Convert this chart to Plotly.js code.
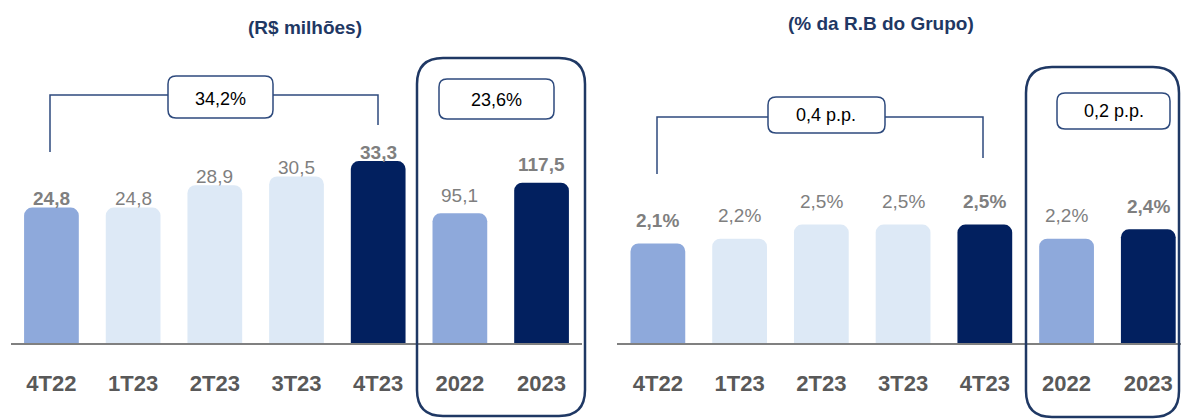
<!DOCTYPE html>
<html>
<head>
<meta charset="utf-8">
<script src="https://cdn.plot.ly/plotly-3.0.1.min.js"></script>
<style>body{margin:0;background:#fff}</style>
</head>
<body>
<div id="chart" style="width:1181px;height:419px"></div>
<script>
// dados
var periods = ['4T22', '1T23', '2T23', '3T23', '4T23', '2022', '2023'];
var quarters = ['4T22', '1T23', '2T23', '3T23', '4T23'];
var years = ['2022', '2023'];
var valTri = [24.8, 24.8, 28.9, 30.5, 33.3];      // R$ milhoes
var valAno = [95.1, 117.5];
var pctRB = [2.1, 2.2, 2.5, 2.5, 2.5, 2.2, 2.4];  // % da R.B
var boldLabel = [true, false, false, false, true, false, true];
var varTri = '34,2%';
var varAno = '23,6%';
var varTriPP = '0,4 p.p.';
var varAnoPP = '0,2 p.p.';

var W = 1181, H = 419;
var NAVY = '#02205F', MID = '#8EA9DB', LIGHT = '#DDE9F6';
var colTri = [MID, LIGHT, LIGHT, LIGHT, NAVY];
var colAno = [MID, NAVY];
var FONT = 'Liberation Sans, Arial, sans-serif';

function fmt(v) { return v.toFixed(1).replace('.', ','); }
function px(x) { return x / W; }
function py(y) { return 1 - y / H; }

var traces = [
  {x: quarters, y: valTri, type: 'bar', xaxis: 'x', yaxis: 'y',
   marker: {color: colTri}, hoverinfo: 'skip'},
  {x: years, y: valAno, type: 'bar', xaxis: 'x', yaxis: 'y2',
   marker: {color: colAno}, hoverinfo: 'skip'},
  {x: periods, y: pctRB, type: 'bar', xaxis: 'x2', yaxis: 'y3',
   marker: {color: colTri.concat(colAno)}, hoverinfo: 'skip'}
];

var annotations = [];
// x como indice da categoria (rotulos numericos tipo '2022' confundem o eixo)
function valueLabel(cat, v, xref, yref, txt, bold, shift) {
  annotations.push({
    x: periods.indexOf(cat), y: v, xref: xref, yref: yref, text: txt, showarrow: false,
    yanchor: 'middle', yshift: shift,
    font: {family: FONT, size: 19, color: '#7F7F7F', weight: bold ? 'bold' : 'normal'}
  });
}
quarters.forEach(function (c, i) {
  valueLabel(c, valTri[i], 'x', 'y', fmt(valTri[i]), boldLabel[i], 9);
});
years.forEach(function (c, i) {
  valueLabel(c, valAno[i], 'x', 'y2', fmt(valAno[i]), boldLabel[5 + i], 18);
});
periods.forEach(function (c, i) {
  valueLabel(c, pctRB[i], 'x2', 'y3', fmt(pctRB[i]) + '%', boldLabel[i], 23);
});

function textAt(x, y, txt, size, color, bold) {
  annotations.push({
    x: px(x), y: py(y), xref: 'paper', yref: 'paper', text: txt, showarrow: false,
    xanchor: 'center', yanchor: 'middle',
    font: {family: FONT, size: size, color: color, weight: bold ? 'bold' : 'normal'}
  });
}
textAt(305, 27, '(R$ milhões)', 19, '#1F3864', true);
textAt(881, 23, '(% da R.B do Grupo)', 19, '#1F3864', true);
textAt(220, 99, varTri, 18, '#000', false);
textAt(496, 100, varAno, 18, '#000', false);
textAt(826, 115, varTriPP, 18, '#000', false);
textAt(1114, 111, varAnoPP, 18, '#000', false);

function rrect(x0, y0, x1, y1, r) {
  var p = function (x, y) { return px(x) + ',' + py(y); };
  return 'M' + p(x0 + r, y0) + ' L' + p(x1 - r, y0) + ' Q' + p(x1, y0) + ' ' + p(x1, y0 + r) +
    ' L' + p(x1, y1 - r) + ' Q' + p(x1, y1) + ' ' + p(x1 - r, y1) +
    ' L' + p(x0 + r, y1) + ' Q' + p(x0, y1) + ' ' + p(x0, y1 - r) +
    ' L' + p(x0, y0 + r) + ' Q' + p(x0, y0) + ' ' + p(x0 + r, y0) + ' Z';
}
function polyline(pts) {
  return pts.map(function (q, i) { return (i ? 'L' : 'M') + px(q[0]) + ',' + py(q[1]); }).join(' ');
}
function shp(path, color, width) {
  return {type: 'path', xref: 'paper', yref: 'paper', path: path,
          line: {color: color, width: width}, fillcolor: 'rgba(0,0,0,0)'};
}

var shapes = [
  shp(rrect(417, 58, 585, 416, 26), '#1F3864', 2.5),
  shp(rrect(1026, 67, 1179, 417, 26), '#1F3864', 2.5),
  shp(polyline([[50, 152], [50, 95], [168, 95]]), '#2E4A7D', 1.5),
  shp(polyline([[273, 95], [378, 95], [378, 125]]), '#2E4A7D', 1.5),
  shp(rrect(168, 76, 273, 118, 8), '#2E4A7D', 1.5),
  shp(rrect(439, 79, 554, 119, 8), '#2E4A7D', 1.5),
  shp(polyline([[657, 174], [657, 117], [768, 117]]), '#2E4A7D', 1.5),
  shp(polyline([[885, 117], [983, 117], [983, 158]]), '#2E4A7D', 1.5),
  shp(rrect(768, 97, 885, 133, 8), '#2E4A7D', 1.5),
  shp(rrect(1057, 93, 1170, 129, 8), '#2E4A7D', 1.5)
];

var yDom = [py(343), 1];
var xCommon = {
  type: 'category', showgrid: false, zeroline: false, fixedrange: true,
  showline: true, linecolor: '#808080', linewidth: 2,
  ticks: 'outside', ticklen: 20, tickcolor: 'rgba(0,0,0,0)',
  tickfont: {family: FONT, size: 22, color: '#595959', weight: 'bold'}
};
var yCommon = {visible: false, showgrid: false, zeroline: false, fixedrange: true};

var layout = {
  width: W, height: H,
  margin: {l: 0, r: 0, t: 0, b: 0},
  paper_bgcolor: '#fff', plot_bgcolor: 'rgba(0,0,0,0)',
  showlegend: false,
  separators: ',.',
  bargap: 0.33,
  barcornerradius: 8,
  xaxis: Object.assign({}, xCommon, {domain: [px(10.6), px(582.4)], range: [-0.5, 6.5],
    categoryorder: 'array', categoryarray: periods}),
  xaxis2: Object.assign({}, xCommon, {domain: [px(617), 1], range: [-0.5, 6.4],
    categoryorder: 'array', categoryarray: periods, anchor: 'y3'}),
  yaxis: Object.assign({}, yCommon, {domain: yDom, range: [0, 62.8]}),
  yaxis2: Object.assign({}, yCommon, {domain: yDom, range: [0, 251.5], overlaying: 'y'}),
  yaxis3: Object.assign({}, yCommon, {domain: yDom, range: [0, 7.24], anchor: 'x2'}),
  annotations: annotations,
  shapes: shapes
};

Plotly.newPlot('chart', traces, layout, {displayModeBar: false, staticPlot: true});
</script>
</body>
</html>
